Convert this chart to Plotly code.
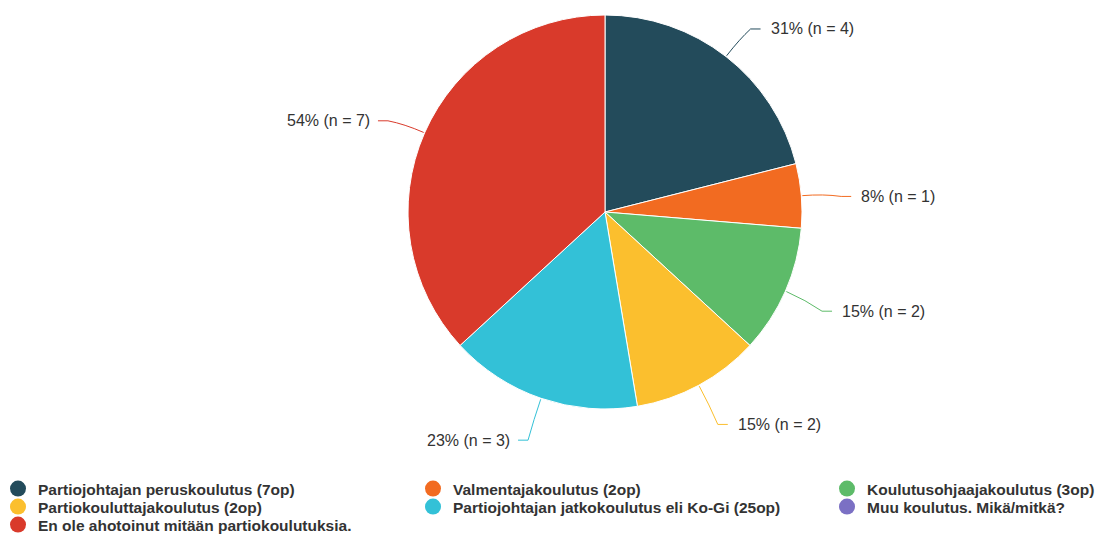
import math
import plotly.graph_objects as go

# ---- data ----
categories = [
    "Partiojohtajan peruskoulutus (7op)",
    "Valmentajakoulutus (2op)",
    "Koulutusohjaajakoulutus (3op)",
    "Partiokouluttajakoulutus (2op)",
    "Partiojohtajan jatkokoulutus eli Ko-Gi (25op)",
    "Muu koulutus. Mikä/mitkä?",
    "En ole ahotoinut mitään partiokoulutuksia.",
]
counts = [4, 1, 2, 2, 3, 0, 7]
percents = [31, 8, 15, 15, 23, 0, 54]
colors = ["#234b5b", "#f26b21", "#5dbb69", "#fbbf2e", "#33c1d7", "#7b70c4", "#d93a2b"]

# pie slice order (clockwise from 12 o'clock); zero-count category not drawn
slice_order = [i for i in range(len(categories)) if counts[i] > 0]

W, H = 1104, 536
# pie domain in pixels
PX0, PX1, PY0, PY1 = 408, 802, 15, 409
cx, cy = (PX0 + PX1) / 2, (PY0 + PY1) / 2
R = (PX1 - PX0) / 2


def px(x):
    return x / W


def py(y):
    return 1 - y / H


fig = go.Figure()
fig.add_trace(go.Pie(
    labels=[categories[i] for i in slice_order],
    values=[counts[i] for i in slice_order],
    marker=dict(colors=[colors[i] for i in slice_order], line=dict(color="white", width=1)),
    sort=False, direction="clockwise", rotation=0,
    textinfo="none", hoverinfo="label+value", showlegend=False,
    domain=dict(x=[px(PX0), px(PX1)], y=[py(PY1), py(PY0)]),
))

total = sum(counts[i] for i in slice_order)
cum = 0
shapes = []
annotations = []
for i in slice_order:
    mid = (cum + counts[i] / 2) / total * 2 * math.pi
    cum += counts[i]
    s, c = math.sin(mid), math.cos(mid)
    right = s >= 0
    x0, y0 = cx + (R + 1) * s, cy - (R + 1) * c
    xm, ym = cx + (R + 22) * s, cy - (R + 22) * c
    xe = cx + (R + 40) * s
    ye = cy - (R + 40) * c + 4
    xe2 = xe + (10 if right else -10)
    shapes.append(dict(
        type="path", xref="paper", yref="paper",
        path=(f"M {px(x0)},{py(y0)} Q {px(xm)},{py(ym)} {px(xe)},{py(ye)} "
              f"L {px(xe2)},{py(ye)}"),
        line=dict(color=colors[i], width=1),
    ))
    annotations.append(dict(
        x=px(xe2 + (8 if right else -6)), y=py(ye), xref="paper", yref="paper",
        text=f"{percents[i]}% (n = {counts[i]})", showarrow=False,
        xanchor="left" if right else "right", yanchor="middle",
        font=dict(family="Liberation Sans, Arial", size=16, color="#333333"),
    ))

# legend: one single-entry legend per item, laid out in 3 columns (row-major)
col_text_x = [37, 452, 866]
row_center_y = [489, 507, 525]
legend_layouts = {}
for k, name in enumerate(categories):
    col, row = k % 3, k // 3
    lname = "legend" if k == 0 else f"legend{k + 1}"
    fig.add_trace(go.Scatter(
        x=[None], y=[None], mode="markers", name=name,
        marker=dict(color=colors[k], size=16, symbol="circle"),
        legend=lname, hoverinfo="skip",
    ))
    legend_layouts[lname] = dict(
        orientation="v", x=px(col_text_x[col] - 39), xanchor="left",
        y=py(row_center_y[row]), yanchor="middle",
        font=dict(family="Liberation Sans, Arial", size=15.5, color="#333333", weight="bold"),
        bgcolor="rgba(0,0,0,0)", borderwidth=0,
        itemclick=False, itemdoubleclick=False,
    )

fig.update_layout(
    width=W, height=H,
    margin=dict(l=0, r=0, t=0, b=0, autoexpand=False),
    paper_bgcolor="white", plot_bgcolor="white",
    xaxis=dict(visible=False), yaxis=dict(visible=False),
    shapes=shapes, annotations=annotations,
    **legend_layouts,
)
# remove the page's default body margin so the figure fills the window exactly
fig.write_html(
    "out.html",
    config={"displayModeBar": False},
    post_script="document.body.style.margin='0px';",
)
